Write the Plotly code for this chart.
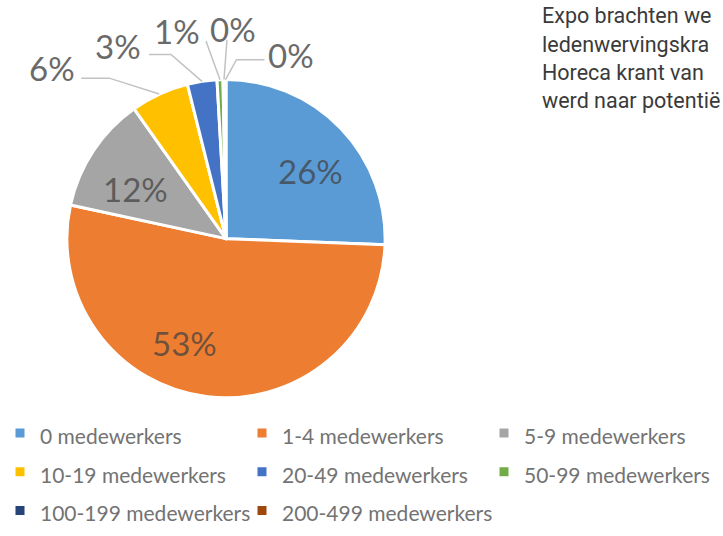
import math
import plotly.graph_objects as go

# ---- data ----
categories = ["0 medewerkers", "1-4 medewerkers", "5-9 medewerkers", "10-19 medewerkers",
              "20-49 medewerkers", "50-99 medewerkers", "100-199 medewerkers", "200-499 medewerkers"]
shares = [25.6, 52.8, 11.8, 5.9, 3.0, 0.6, 0.2, 0.1]
pct_labels = ["26%", "53%", "12%", "6%", "3%", "1%", "0%", "0%"]
colors = ["#5B9BD5", "#ED7D31", "#A5A5A5", "#FFC000", "#4472C4", "#70AD47", "#264478", "#9E480E"]
side_text = ["Expo brachten we", "ledenwervingskra", "Horeca krant van", "werd naar potentië"]

W, H = 723, 536
# pie geometry (pixels)
cx, cy, R = 226, 240, 160
dom_x = [(cx - R) / W, (cx + R) / W]
dom_y = [1 - (cy + R) / H, 1 - (cy - R) / H]


def to_paper(px, py):
    return px / W, 1 - py / H


legend_labels = [f"<span style='font-size:21px'>{c}</span>" for c in categories]

fig = go.Figure(go.Pie(
    labels=legend_labels, values=shares, sort=False, direction="clockwise", rotation=0,
    marker=dict(colors=colors, line=dict(color="white", width=3)),
    textinfo="none", customdata=categories,
    hovertemplate="%{customdata}: %{percent}<extra></extra>",
    domain=dict(x=dom_x, y=dom_y),
))

# label placement (pixel offsets)
inside_shift = {0: (13, -1), 1: (-29, -6), 2: (-8, -5)}
# outside: text offset from slice edge, leader start offset from text centre, horizontal run
outside_spec = {
    3: dict(text=(-107, -26), start=(29, 10), run=28),
    4: dict(text=(-84, -36), start=(31, 9), run=22),
    5: dict(text=(-43, -49), start=(29, 10), run=0),
    6: dict(text=(9, -51), start=(-6, 11), run=0),
    7: dict(text=(66, -25), start=(-27, 5), run=-28),
}

total = sum(shares)
cum = 0.0
annotations, shapes = [], []
for i, v in enumerate(shares):
    mid = (cum + v / 2) / total * 2 * math.pi
    cum += v
    if i in inside_shift:
        px = cx + R * 0.62 * math.sin(mid)
        py = cy - R * 0.62 * math.cos(mid)
        sx, sy = inside_shift[i]
        x, y = to_paper(px, py)
        annotations.append(dict(
            x=x, y=y, xref="paper", yref="paper", showarrow=False,
            xanchor="center", yanchor="middle",
            xshift=sx, yshift=sy, text=pct_labels[i],
            font=dict(family="Lato", size=33, color="rgba(64,64,64,0.72)"),
        ))
    elif i in outside_spec:
        spec = outside_spec[i]
        ex = cx + R * 1.0 * math.sin(mid)
        ey = cy - R * 1.0 * math.cos(mid)
        tx, ty = ex + spec["text"][0], ey + spec["text"][1]
        x, y = to_paper(tx, ty)
        annotations.append(dict(
            x=x, y=y, xref="paper", yref="paper", showarrow=False,
            xanchor="center", yanchor="middle", text=pct_labels[i],
            font=dict(family="Lato", size=33, color="#6a6a6a"),
        ))
        s0 = (tx + spec["start"][0], ty + spec["start"][1])
        s1 = (s0[0] + spec["run"], s0[1])
        pts = [to_paper(*s0), to_paper(*s1), to_paper(ex, ey)]
        path = "M{:.5f},{:.5f} L{:.5f},{:.5f} L{:.5f},{:.5f}".format(
            pts[0][0], pts[0][1], pts[1][0], pts[1][1], pts[2][0], pts[2][1])
        shapes.append(dict(type="path", path=path, xref="paper", yref="paper",
                           line=dict(color="#C2C2C2", width=1.5)))

for k, line in enumerate(side_text):
    x, y = to_paper(540, 16 + 28.5 * k)
    annotations.append(dict(
        x=x, y=y, xref="paper", yref="paper",
        xanchor="left", yanchor="middle", showarrow=False, text=line,
        font=dict(family="Roboto", size=21.5, color="#3a3a3a"),
    ))

fig.update_layout(
    width=W, height=H, margin=dict(l=0, r=0, t=0, b=0),
    paper_bgcolor="white", plot_bgcolor="white",
    showlegend=True,
    legend=dict(orientation="h", x=0, y=1 - 411 / H, xanchor="left", yanchor="top",
                entrywidth=197, entrywidthmode="pixels", traceorder="normal",
                font=dict(family="Lato", size=27.5, color="#737373"), itemwidth=30),
    annotations=annotations,
    shapes=shapes,
)
fig.write_html("out.html", config={"displayModeBar": False},
               post_script="document.body.style.margin='0';")
